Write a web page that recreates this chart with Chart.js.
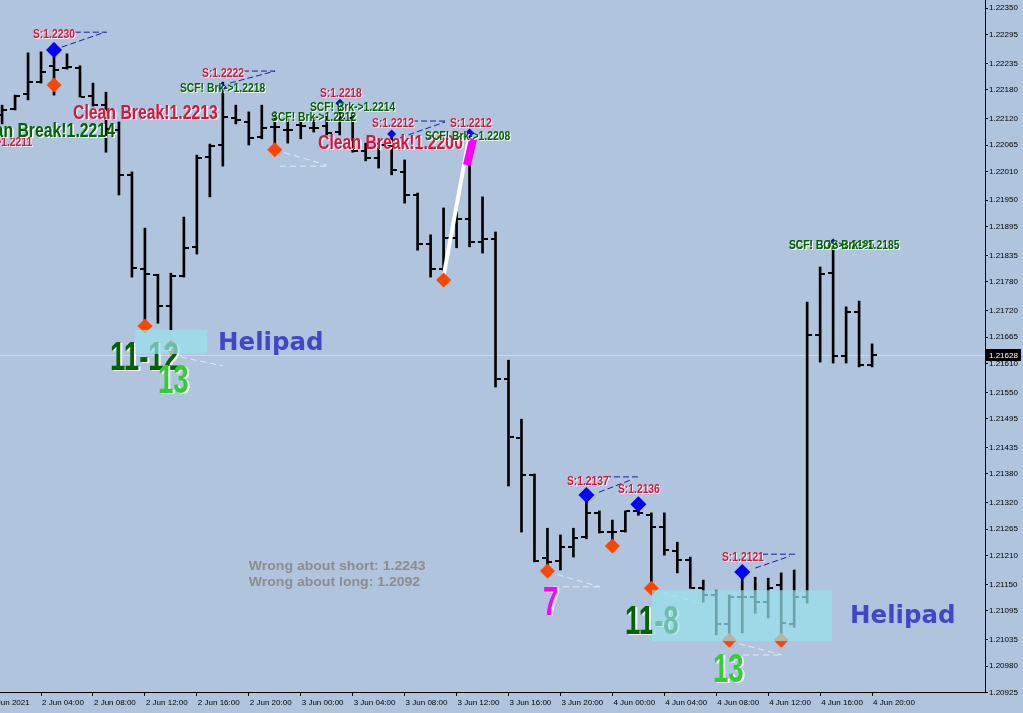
<!DOCTYPE html>
<html>
<head>
<meta charset="utf-8">
<title>EURUSD H1</title>
<script src="https://cdn.jsdelivr.net/npm/chart.js@4.4.1/dist/chart.umd.min.js"></script>
<style>
  html, body { margin: 0; padding: 0; background: #b0c4de; overflow: hidden; }
  #wrap { width: 1023px; height: 713px; position: relative; }
</style>
</head>
<body>
<div id="wrap"><canvas id="chart"></canvas></div>
<script>
// H1 bars, 2 Jun 01:00 .. 4 Jun 20:00 (hour counted from 2 Jun 00:00)
const opens = [1.22128,1.22140,1.22171,1.22196,1.22230,1.22225,1.22225,1.22167,1.22148,1.22096,
  1.22003,1.21807,1.21794,1.21730,1.21792,1.21853,1.22040,1.22065,1.22121,1.22113,
  1.22082,1.22103,1.22096,1.22107,1.22100,1.22105,1.22092,1.22121,1.22053,1.22038,
  1.22065,1.22009,1.21961,1.21859,1.21807,1.21871,1.21911,1.21863,1.21869,1.21578,
  1.21455,1.21378,1.21205,1.21199,1.21228,1.21249,1.21299,1.21259,1.21261,1.21303,
  1.21294,1.21270,1.21220,1.21201,1.21142,1.21128,1.21068,1.21124,1.21124,1.21113,
  1.21149,1.21068,1.21124,1.21669,1.21798,1.21626,1.21717,1.21607];
const highs = [1.22148,1.22169,1.22257,1.22259,1.22277,1.22255,1.22230,1.22194,1.22175,1.22113,
  1.22009,1.21892,1.21796,1.21798,1.21915,1.22044,1.22067,1.22196,1.22148,1.22134,
  1.22148,1.22134,1.22121,1.22115,1.22125,1.22125,1.22146,1.22132,1.22069,1.22069,
  1.22090,1.22034,1.21965,1.21878,1.21934,1.21926,1.22096,1.21957,1.21884,1.21617,
  1.21494,1.21380,1.21267,1.21253,1.21267,1.21340,1.21303,1.21284,1.21303,1.21319,
  1.21299,1.21299,1.21238,1.21207,1.21159,1.21138,1.21128,1.21186,1.21165,1.21163,
  1.21174,1.21180,1.21738,1.21811,1.21867,1.21728,1.21740,1.21651];
const lows = [1.22109,1.22138,1.22159,1.22194,1.22169,1.22223,1.22165,1.22146,1.22050,1.21961,
  1.21790,1.21696,1.21694,1.21680,1.21790,1.21838,1.21957,1.22021,1.22109,1.22065,
  1.22078,1.22055,1.22069,1.22078,1.22092,1.22086,1.22086,1.22050,1.22032,1.22017,
  1.22003,1.21944,1.21846,1.21790,1.21784,1.21851,1.21853,1.21840,1.21561,1.21355,
  1.21259,1.21197,1.21176,1.21180,1.21207,1.21245,1.21257,1.21228,1.21259,1.21294,
  1.21138,1.21211,1.21174,1.21142,1.21113,1.21045,1.21045,1.21049,1.21090,1.21080,
  1.21045,1.21061,1.21111,1.21613,1.21611,1.21611,1.21603,1.21603];
const closes = [1.22138,1.22167,1.22196,1.22217,1.22221,1.22228,1.22165,1.22148,1.22098,1.22003,
  1.21809,1.21796,1.21730,1.21792,1.21851,1.22038,1.22063,1.22123,1.22117,1.22080,
  1.22100,1.22103,1.22096,1.22105,1.22100,1.22090,1.22121,1.22053,1.22038,1.22065,
  1.22013,1.21961,1.21859,1.21807,1.21871,1.21911,1.21863,1.21869,1.21578,1.21457,
  1.21378,1.21199,1.21197,1.21228,1.21247,1.21299,1.21259,1.21259,1.21303,1.21299,
  1.21270,1.21222,1.21201,1.21142,1.21128,1.21068,1.21124,1.21124,1.21113,1.21142,
  1.21070,1.21124,1.21669,1.21796,1.21626,1.21717,1.21607,1.21628];
const barHours = opens.map((_, i) => i + 1);

// axis ticks
const xTickHours = [0,4,8,12,16,20,24,28,32,36,40,44,48,52,56,60,64,68];
const xTickLabels = ['2 Jun 2021','2 Jun 04:00','2 Jun 08:00','2 Jun 12:00','2 Jun 16:00','2 Jun 20:00',
  '3 Jun 00:00','3 Jun 04:00','3 Jun 08:00','3 Jun 12:00','3 Jun 16:00','3 Jun 20:00',
  '4 Jun 00:00','4 Jun 04:00','4 Jun 08:00','4 Jun 12:00','4 Jun 16:00','4 Jun 20:00'];
const yTickValues = [1.22350,1.22295,1.22235,1.22180,1.22120,1.22065,1.22010,1.21950,1.21895,1.21835,
  1.21780,1.21720,1.21665,1.21610,1.21550,1.21495,1.21435,1.21380,1.21320,1.21265,
  1.21210,1.21150,1.21095,1.21035,1.20980,1.20925];
const X_MIN = 0.8394, X_MAX = 76.696;
const Y_MIN = 1.20926, Y_MAX = 1.22367;
const lastPrice = closes[closes.length - 1];

// indicator marks: [hour, price]
const stopMarks = [[5, 1.22263], [46, 1.21336], [50, 1.21317], [58, 1.21176]];
const brkMarks = [[17.94, 1.22186], [27.02, 1.22152], [31, 1.22088], [37, 1.22090], [65, 1.21861]];
const lowMarks = [[5, 1.22190], [12, 1.21688], [14, 1.21644], [22, 1.22055], [35, 1.21784],
  [43, 1.21178], [48, 1.21230], [51, 1.21142], [57, 1.21034], [61, 1.21034]];

// helipad zones: [hourFrom, hourTo, priceTop, priceBottom]
const zones = [[11.24, 16.78, 1.21680, 1.21630], [51.05, 64.91, 1.21138, 1.21032]];

// guide lines: [h1, p1, h2, p2, kind]
const guides = [
  [5.6, 1.22269, 8.93, 1.22300, 'stop'], [6.6, 1.22300, 9.08, 1.22300, 'stop'],
  [18.55, 1.22194, 22.02, 1.22219, 'stop'], [19.55, 1.22219, 22.02, 1.22219, 'stop'],
  [31.64, 1.22080, 35.11, 1.22113, 'stop'], [32.57, 1.22115, 35.11, 1.22115, 'stop'],
  [46.97, 1.21342, 49.36, 1.21367, 'stop'], [47.43, 1.21374, 49.97, 1.21374, 'stop'],
  [59.0, 1.21184, 61.68, 1.21209, 'stop'], [59.52, 1.21213, 62.06, 1.21213, 'stop'],
  [22.0, 1.22055, 26.02, 1.22023, 'low'], [22.4, 1.22021, 26.02, 1.22021, 'low'],
  [14.01, 1.21628, 18.01, 1.21605, 'low'],
  [43.04, 1.21176, 47.05, 1.21145, 'low'], [43.43, 1.21145, 47.05, 1.21145, 'low'],
  [51.13, 1.21139, 54.75, 1.21111, 'low'],
  [57.0, 1.21032, 61.06, 1.21003, 'low'], [57.29, 1.21003, 61.06, 1.21003, 'low'],
  [34.96, 1.21786, 36.96, 1.22080, 'swing'], [36.80, 1.22023, 37.27, 1.22078, 'seven']
];

// texts: [text, hour (left edge), price (middle), style]
const notes = [
  ['S:1.2230', 3.38, 1.22294, 'stop'],
  ['SCF! Brk->1.2211', -3.2, 1.22069, 'stop'],
  ['Clean Break!1.2214', -1.47, 1.22094, 'cleanG'],
  ['Clean Break!1.2213', 6.46, 1.22130, 'clean'],
  ['S:1.2222', 16.4, 1.22213, 'stop'],
  ['SCF! Brk->1.2218', 14.7, 1.22182, 'brk'],
  ['S:1.2218', 25.48, 1.22171, 'stop'],
  ['SCF! Brk->1.2212', 21.71, 1.22121, 'brk'],
  ['SCF! Brk->1.2214', 24.71, 1.22142, 'brk'],
  ['S:1.2212', 29.49, 1.22109, 'stop'],
  ['S:1.2212', 35.49, 1.22109, 'stop'],
  ['Clean Break!1.2200', 25.33, 1.22069, 'clean'],
  ['SCF! Brk->1.2208', 33.57, 1.22082, 'brk'],
  ['Helipad', 17.63, 1.21651, 'heli'],
  ['11-12', 9.31, 1.21619, 'bigG'],
  ['13', 13.0, 1.21572, 'bigL'],
  ['Wrong about short: 1.2243', 20.0, 1.21188, 'wrong'],
  ['Wrong about long: 1.2092', 20.0, 1.21155, 'wrong'],
  ['7', 42.66, 1.21109, 'bigM'],
  ['S:1.2137', 44.5, 1.21363, 'stop'],
  ['S:1.2136', 48.43, 1.21347, 'stop'],
  ['11-8', 48.97, 1.21070, 'bigG'],
  ['Helipad', 66.3, 1.21082, 'heli'],
  ['13', 55.75, 1.20970, 'bigL'],
  ['S:1.2121', 56.44, 1.21205, 'stop'],
  ['SCF! Brk->1.2185', 61.6, 1.21855, 'brk'],
  ['SCF! BOS Brk->1.2185', 61.6, 1.21855, 'brk']
];

const sansBold = '"Liberation Sans", Arial, sans-serif';
const noteStyles = {
  stop:   { color: '#dc143c', size: 12, sx: 0.86, shadow: 1, family: sansBold },
  brk:    { color: '#006400', size: 12, sx: 0.86, shadow: 1, family: sansBold },
  clean:  { color: '#dc143c', size: 20, sx: 0.79, shadow: 1.5, family: sansBold },
  cleanG: { color: '#006400', size: 20, sx: 0.79, shadow: 1.5, family: sansBold },
  heli:   { color: '#4048c8', size: 24.5, sx: 1, shadow: 0, family: '"DejaVu Sans", Verdana, sans-serif' },
  bigG:   { color: '#006400', size: 40, sx: 0.69, shadow: 2, family: sansBold },
  bigL:   { color: '#32cd32', size: 40, sx: 0.69, shadow: 2, family: sansBold },
  bigM:   { color: '#ff00ff', size: 40, sx: 0.69, shadow: 2, family: sansBold },
  wrong:  { color: '#8c8c8c', size: 13, sx: 1.08, shadow: 0, family: sansBold }
};
const guideStyles = {
  stop:  { color: '#1c1c9c', width: 1, dash: [6, 3] },
  low:   { color: 'rgba(232,238,246,0.9)', width: 1, dash: [6, 4] },
  swing: { color: '#ffffff', width: 4, dash: [] },
  seven: { color: '#ff00ff', width: 8, dash: [] }
};

function diamond(ctx, px, py, r, color) {
  ctx.beginPath();
  ctx.moveTo(px, py - r);
  ctx.lineTo(px + r, py);
  ctx.lineTo(px, py + r);
  ctx.lineTo(px - r, py);
  ctx.closePath();
  ctx.fillStyle = color;
  ctx.fill();
}

function drawNote(ctx, text, px, py, st) {
  ctx.save();
  ctx.translate(px, py);
  ctx.scale(st.sx, 1);
  ctx.font = 'bold ' + st.size + 'px ' + st.family;
  ctx.textBaseline = 'middle';
  ctx.textAlign = 'left';
  if (st.shadow) {
    ctx.fillStyle = '#ffffff';
    ctx.fillText(text, st.shadow / st.sx, st.shadow * 0.6);
  }
  ctx.fillStyle = st.color;
  ctx.fillText(text, 0, 0);
  ctx.restore();
}

const overlay = {
  id: 'overlay',
  beforeDatasetsDraw(chart) {
    const { ctx, chartArea, scales: { y } } = chart;
    const py = Math.round(y.getPixelForValue(lastPrice)) + 0.5;
    ctx.save();
    ctx.strokeStyle = 'rgba(212,218,228,0.9)';
    ctx.lineWidth = 1;
    ctx.beginPath();
    ctx.moveTo(chartArea.left, py);
    ctx.lineTo(chartArea.right, py);
    ctx.stroke();
    ctx.restore();
  },
  afterDatasetsDraw(chart) {
    const { ctx, chartArea, scales: { x, y } } = chart;
    ctx.save();
    ctx.beginPath();
    ctx.rect(chartArea.left, chartArea.top, chartArea.right - chartArea.left, chartArea.bottom - chartArea.top);
    ctx.clip();

    // open / close ticks
    ctx.fillStyle = '#000';
    barHours.forEach((h, i) => {
      const px = Math.round(x.getPixelForValue(h));
      ctx.fillRect(px - 5, Math.round(y.getPixelForValue(opens[i])) - 1, 4, 2);
      ctx.fillRect(px + 1, Math.round(y.getPixelForValue(closes[i])) - 1, 4, 2);
    });

    // guide lines
    guides.forEach(g => {
      const st = guideStyles[g[4]];
      ctx.save();
      ctx.strokeStyle = st.color;
      ctx.lineWidth = st.width;
      ctx.setLineDash(st.dash);
      ctx.beginPath();
      ctx.moveTo(x.getPixelForValue(g[0]), y.getPixelForValue(g[1]));
      ctx.lineTo(x.getPixelForValue(g[2]), y.getPixelForValue(g[3]));
      ctx.stroke();
      ctx.restore();
    });

    // markers
    lowMarks.forEach(m => diamond(ctx, x.getPixelForValue(m[0]), y.getPixelForValue(m[1]), 7.5, '#ff4500'));
    stopMarks.forEach(m => diamond(ctx, x.getPixelForValue(m[0]), y.getPixelForValue(m[1]), 8, '#0000ff'));
    brkMarks.forEach(m => diamond(ctx, x.getPixelForValue(m[0]), y.getPixelForValue(m[1]), 4.5, '#0000ff'));

    // texts
    notes.forEach(n => drawNote(ctx, n[0], x.getPixelForValue(n[1]), y.getPixelForValue(n[2]), noteStyles[n[3]]));

    // helipad zones (semi-transparent, on top)
    ctx.fillStyle = 'rgba(153,223,233,0.72)';
    zones.forEach(z => {
      const x0 = x.getPixelForValue(z[0]), x1 = x.getPixelForValue(z[1]);
      const y0 = y.getPixelForValue(z[2]), y1 = y.getPixelForValue(z[3]);
      ctx.fillRect(x0, y0, x1 - x0, y1 - y0);
    });
    ctx.restore();
  },
  afterDraw(chart) {
    const { ctx, chartArea, scales: { y } } = chart;
    const py = Math.round(y.getPixelForValue(lastPrice));
    ctx.save();
    ctx.fillStyle = '#000';
    ctx.fillRect(chartArea.right, py - 6, 36, 12);
    ctx.fillStyle = '#fff';
    ctx.font = '8px "Liberation Sans", Arial, sans-serif';
    ctx.textBaseline = 'middle';
    ctx.fillText(lastPrice.toFixed(5), chartArea.right + 4, py + 0.5);
    ctx.restore();
  }
};

const axisFont = { size: 8, family: '"Liberation Sans", Arial, sans-serif' };

new Chart(document.getElementById('chart'), {
  type: 'bar',
  data: {
    datasets: [{
      data: barHours.map((h, i) => ({ x: h, y: [lows[i], highs[i]] })),
      backgroundColor: '#000',
      borderWidth: 0,
      barThickness: 2,
      grouped: false
    }]
  },
  options: {
    responsive: true,
    maintainAspectRatio: false,
    animation: false,
    layout: { padding: 0 },
    plugins: { legend: { display: false }, tooltip: { enabled: false } },
    scales: {
      x: {
        type: 'linear',
        min: X_MIN,
        max: X_MAX,
        offset: false,
        afterBuildTicks: s => { s.ticks = xTickHours.map(v => ({ value: v })); },
        afterFit: s => { s.height = 21; s.paddingLeft = 0; s.paddingRight = 0; },
        ticks: {
          autoSkip: false, maxRotation: 0, align: 'start', labelOffset: 1, padding: 2,
          color: '#000', font: axisFont,
          callback: (v, i) => xTickLabels[i]
        },
        grid: { drawOnChartArea: false, tickLength: 4, color: '#000', offset: false },
        border: { color: '#000' }
      },
      y: {
        type: 'linear',
        position: 'right',
        min: Y_MIN,
        max: Y_MAX,
        afterBuildTicks: s => { s.ticks = yTickValues.map(v => ({ value: v })); },
        afterFit: s => { s.width = 38; s.paddingTop = 0; s.paddingBottom = 0; },
        ticks: { padding: 1, color: '#000', font: axisFont, callback: v => v.toFixed(5) },
        grid: { drawOnChartArea: false, tickLength: 3, color: '#000' },
        border: { color: '#000' }
      }
    }
  },
  plugins: [overlay]
});
</script>
</body>
</html>
